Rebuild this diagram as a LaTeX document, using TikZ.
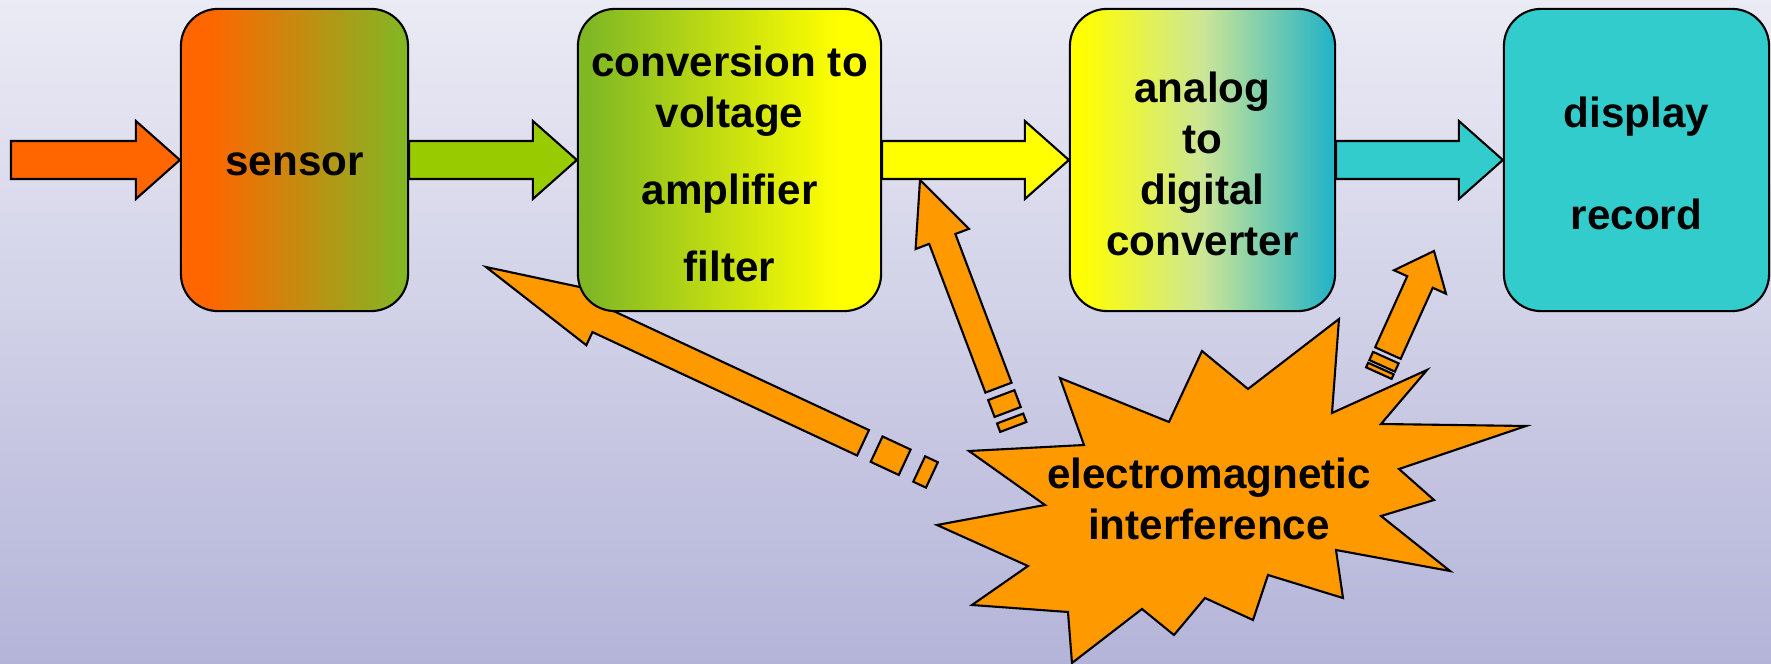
\documentclass[tikz,border=0pt]{standalone}
\usepackage{fontspec}
\setmainfont{Liberation Sans}
\usetikzlibrary{calc}

\definecolor{bgtop}{RGB}{235,235,245}
\definecolor{bgbottom}{RGB}{180,180,217}
\definecolor{sensororange}{HTML}{FF6600}
\definecolor{ampgreen}{HTML}{80B824}
\definecolor{flowgreen}{HTML}{99CC00}
\definecolor{flowyellow}{HTML}{FFFF00}
\definecolor{adcpale}{RGB}{204,230,150}
\definecolor{adcteal}{HTML}{20B2C8}
\definecolor{displayteal}{HTML}{33CCCC}
\definecolor{emiorange}{HTML}{FF9900}

% box fills (25bp..75bp = box width)
\pgfdeclarehorizontalshading{sensorfill}{100bp}{color(0bp)=(sensororange); color(31bp)=(sensororange);
  color(75bp)=(ampgreen); color(100bp)=(ampgreen)}
\pgfdeclarehorizontalshading{ampfill}{100bp}{color(0bp)=(ampgreen); color(27bp)=(ampgreen);
  color(68bp)=(flowyellow); color(100bp)=(flowyellow)}
\pgfdeclarehorizontalshading{adcfill}{100bp}{color(0bp)=(flowyellow); color(27bp)=(flowyellow);
  color(50bp)=(adcpale); color(75bp)=(adcteal); color(100bp)=(adcteal)}

% block arrow between two anchors
\newcommand{\flowarrow}[3]{%
  \filldraw[flow, fill=#3] ($(#1)+(0,-19)$) -- ($(#2)+(-44,-19)$) -- ($(#2)+(-44,-39)$)
    -- (#2) -- ($(#2)+(-44,39)$) -- ($(#2)+(-44,19)$) -- ($(#1)+(0,19)$) -- cycle;}

% broken interference arrow: tip, angle, head, shaft end, two stubs
\newcommand{\emiarrow}[8]{%
  \begin{scope}[shift={(#1)}, rotate=-#2]
    \filldraw[burst] (0,0) -- (#3,28.5) -- (#3,14) -- (#4,14) -- (#4,-14)
      -- (#3,-14) -- (#3,-28.5) -- cycle;
    \filldraw[burst] (#5,-14) rectangle (#6,14);
    \filldraw[burst] (#7,-14) rectangle (#8,14);
  \end{scope}}

\begin{document}
\begin{tikzpicture}[x=0.01cm, y=-0.01cm,
    box/.style={draw, line width=0.6pt, rounded corners=0.37cm, minimum height=3.02cm, inner sep=0pt},
    boxtext/.style={font=\bfseries\fontsize{12}{14.5}\selectfont, align=center},
    flow/.style={draw, line width=0.6pt},
    burst/.style={draw, line width=0.6pt, fill=emiorange}
]

% --- background ---
\shade[top color=bgtop, bottom color=bgbottom] (0,0) rectangle (1771,664);
\useasboundingbox (0,0) rectangle (1771,664);

% --- interference ---
\coordinate (hitA) at (486,267);
\coordinate (hitB) at (920,180);
\coordinate (hitC) at (1434,251);
\emiarrow{hitA}{25}{124}{416}{431}{462}{478}{492}
\emiarrow{hitB}{69.3}{63}{222}{230}{248}{255}{264}
\emiarrow{hitC}{114.3}{34}{112}{117}{126}{129}{134}

\filldraw[burst] (1060,378) -- (1169,422) -- (1202,351) -- (1248,389) -- (1339,319)
  -- (1332,413) -- (1427,370) -- (1381,424) -- (1526,426) -- (1399,469)
  -- (1434,500) -- (1381,516) -- (1450,571) -- (1336,550) -- (1343,598)
  -- (1268,575) -- (1253,620) -- (1205,598) -- (1174,635) -- (1142,609)
  -- (1072,663) -- (1068,612) -- (972,605) -- (1028,566) -- (937,525)
  -- (1045,505) -- (969,451) -- (1084,445) -- cycle;
\node[boxtext] (emi) at (1209,499) {electromagnetic\\interference};

% --- signal chain ---
\node[box, minimum width=2.27cm, shading=sensorfill] (sensor) at (294.5,160) {};
\node[box, minimum width=3.03cm, shading=ampfill] (amp) at (729.5,160) {};
\node[box, minimum width=2.65cm, shading=adcfill] (adc) at (1202.5,160) {};
\node[box, minimum width=2.65cm, fill=displayteal] (disp) at (1636.5,160) {};

\node[boxtext] (sensortxt) at ([yshift=-0.045cm]sensor.center) {sensor};
\node[boxtext] (amptxt) at ([yshift=-0.035cm]amp.center)
    {conversion to\\voltage\\[0.26cm]amplifier\\[0.26cm]filter};
\node[boxtext] (adctxt) at ([yshift=-0.035cm]adc.center) {analog\\to\\digital\\converter};
\node[boxtext] (disptxt) at ([yshift=-0.035cm]disp.center) {display\\[0.51cm]record};

\coordinate (input) at (11,160);
\flowarrow{input}{sensor.west}{sensororange}
\flowarrow{sensor.east}{amp.west}{flowgreen}
\flowarrow{amp.east}{adc.west}{flowyellow}
\flowarrow{adc.east}{disp.west}{displayteal}

\end{tikzpicture}
\end{document}
